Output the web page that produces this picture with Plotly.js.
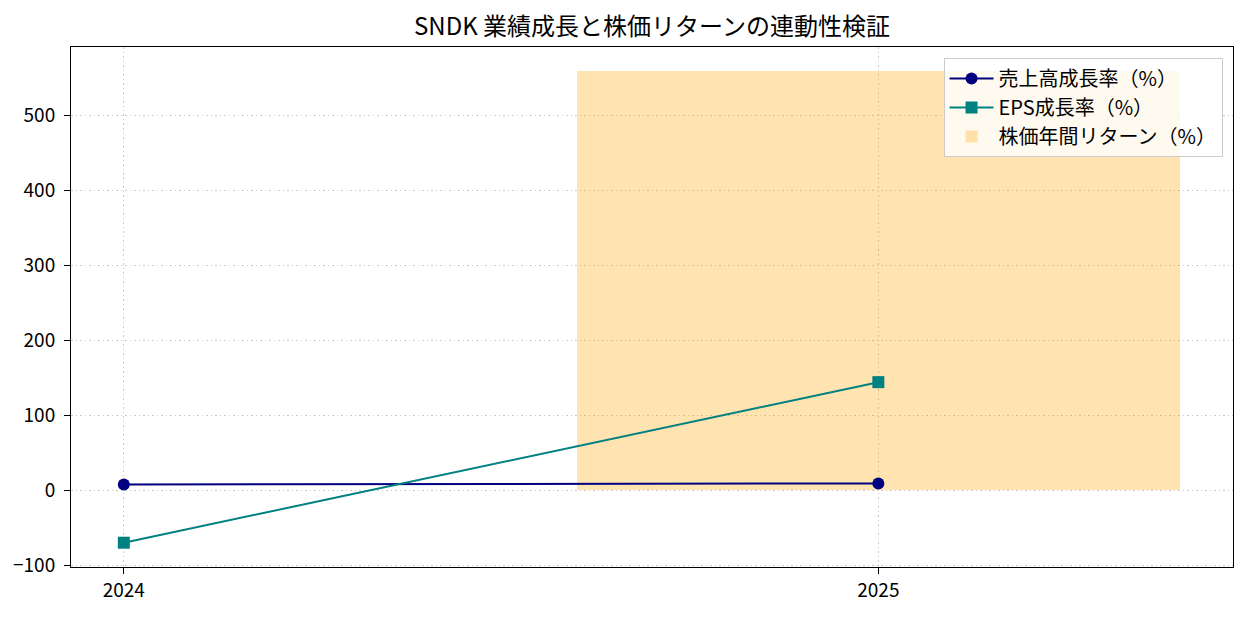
<!DOCTYPE html>
<html>
<head>
<meta charset="utf-8">
<script src="https://cdn.plot.ly/plotly-3.0.1.min.js"></script>
<style>html,body{margin:0;padding:0;background:#fff;}#chart{width:1249px;height:617px;}</style>
</head>
<body>
<div id="chart"></div>
<script>
const years = [2024, 2025];
const revenueGrowth = [8.0, 9.3];
const epsGrowth = [-69.8, 144.4];
const returnYears = [2025];
const stockReturn = [560];
const tickLabels = ["2024", "2025"];

const FONT = '"Noto Sans CJK JP", "DejaVu Sans", sans-serif';

const traces = [
  {
    x: years, y: revenueGrowth, type: 'scatter', mode: 'lines+markers',
    name: '売上高成長率（%）', legendgroup: 'a',
    line: {color: '#000080', width: 2},
    marker: {symbol: 'circle', size: 12, color: '#000080'}
  },
  {
    x: years, y: epsGrowth, type: 'scatter', mode: 'lines+markers',
    name: 'EPS成長率（%）', legendgroup: 'b',
    line: {color: '#008080', width: 2},
    marker: {symbol: 'square', size: 12, color: '#008080'}
  },
  {
    x: returnYears, y: stockReturn, type: 'bar', width: 0.8,
    name: '株価年間リターン（%）', legendgroup: 'c',
    marker: {color: 'rgba(255,165,0,0.3)', line: {width: 0}}
  }
];

const layout = {
  width: 1249, height: 617,
  margin: {l: 71, r: 16, t: 47, b: 50},
  paper_bgcolor: '#fff', plot_bgcolor: '#fff',
  font: {family: FONT, size: 14, color: '#000'},
  title: {text: 'SNDK 業績成長と株価リターンの連動性検証', font: {size: 24, family: FONT}, x: 0.522, xanchor: 'center', y: 0.957, yanchor: 'middle'},
  showlegend: true,
  legend: {
    x: 0.991, xanchor: 'right', y: 0.979, yanchor: 'top',
    bgcolor: 'rgba(255,255,255,0.8)', bordercolor: '#cccccc', borderwidth: 1,
    font: {size: 20, family: FONT}, traceorder: 'normal', tracegroupgap: 3,
    itemwidth: 44
  },
  xaxis: {
    range: [2023.93, 2025.47],
    tickvals: years, ticktext: tickLabels,
    showgrid: true, gridcolor: '#c8c8c8', griddash: '1.5px,3px', gridwidth: 1,
    zeroline: false,
    showline: true, linecolor: '#000', linewidth: 1, mirror: true,
    ticks: 'outside', ticklen: 6, tickcolor: '#000',
    tickfont: {size: 19}
  },
  yaxis: {
    range: [-102.2, 591.5],
    dtick: 100, tick0: 0,
    showgrid: true, gridcolor: '#c8c8c8', griddash: '1.5px,3px', gridwidth: 1,
    zeroline: false,
    showline: true, linecolor: '#000', linewidth: 1, mirror: true,
    ticks: 'outside', ticklen: 6, tickcolor: '#000',
    ticklabelstandoff: 5,
    tickfont: {size: 19}
  },
  bargap: 0
};

Plotly.newPlot('chart', traces, layout, {displayModeBar: false, staticPlot: true});
</script>
</body>
</html>
